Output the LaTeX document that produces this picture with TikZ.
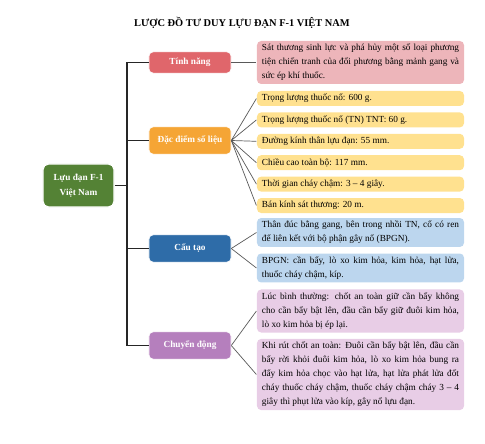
\documentclass[tikz,border=0pt]{standalone}
\usepackage{fontspec}
\setmainfont{Liberation Serif}

\definecolor{rootgreen}{HTML}{548235}
\definecolor{redcat}{HTML}{E0666B}
\definecolor{redleaf}{HTML}{EDB5BA}
\definecolor{orangecat}{HTML}{F5A535}
\definecolor{yellowleaf}{HTML}{FFE18F}
\definecolor{bluecat}{HTML}{2E6CA8}
\definecolor{blueleaf}{HTML}{BCD6EE}
\definecolor{purplecat}{HTML}{B57FBD}
\definecolor{purpleleaf}{HTML}{E8CDE6}

\begin{document}
\begin{tikzpicture}[x=0.025cm,y=-0.025cm,node distance=0.535cm,
                thick,
                root node/.style={rectangle,rounded corners=4pt,fill=rootgreen,draw=white,
                    text=white,align=center,minimum width=1.775cm,minimum height=1.075cm,
                    font=\fontsize{6.6}{10.5}\selectfont\bfseries},
                cat node/.style={rectangle,rounded corners=3pt,draw=white,thin,text=white,
                    minimum width=2.05cm,minimum height=0.68cm,
                    font=\fontsize{6.6}{10}\selectfont\bfseries},
                leaf node/.style={rectangle,rounded corners=3pt,text width=4.925cm,
                    inner xsep=0.125cm,inner ysep=2.2pt,align=justify,minimum height=0.375cm,
                    font=\fontsize{6.6}{10}\selectfont},
                trunk/.style={draw=black!85,line width=0.8pt},
                twig/.style={draw=black!65,line width=0.5pt}]
                \useasboundingbox (0,0) rectangle (485,444);
                \node[font=\fontsize{7.4}{10}\selectfont\bfseries] (title) at (242,23)
                    {LƯỢC ĐỒ TƯ DUY LỰU ĐẠN F-1 VIỆT NAM};

                \node[root node] (0) at (78.5,185.5) {Lựu đạn F-1\\Việt Nam};
                \node[cat node,fill=redcat,minimum height=0.53cm] (1) at (190,62.5) {Tính năng};
                \node[cat node,fill=orangecat] (2) at (190,140.5) {Đặc điểm số liệu};
                \node[cat node,fill=bluecat] (3) at (190,248.5) {Cấu tạo};
                \node[cat node,fill=purplecat] (4) at (190,345.5) {Chuyển động};
                \coordinate (t) at (127,185.5);

                % leaves
                \node[leaf node,fill=redleaf] (11) at (360.5,62.5)
                    {Sát thương sinh lực và phá hủy một số loại phương\linebreak tiện chiến tranh của đối phương bằng mảnh gang và\linebreak sức ép khí thuốc.};
                \node[leaf node,fill=yellowleaf] (21) at (360.5,98.5) {Trọng lượng thuốc nổ: 600 g.};
                \node[leaf node,fill=yellowleaf] (22) [below of=21] {Trọng lượng thuốc nổ (TN) TNT: 60 g.};
                \node[leaf node,fill=yellowleaf] (23) [below of=22] {Đường kính thân lựu đạn: 55 mm.};
                \node[leaf node,fill=yellowleaf] (24) [below of=23] {Chiều cao toàn bộ: 117 mm.};
                \node[leaf node,fill=yellowleaf] (25) [below of=24] {Thời gian cháy chậm: 3 – 4 giây.};
                \node[leaf node,fill=yellowleaf] (26) [below of=25] {Bán kính sát thương: 20 m.};
                \node[leaf node,fill=blueleaf] (31) at (360.5,232.5)
                    {Thân đúc bằng gang, bên trong nhồi TN, cổ có ren\linebreak để liên kết với bộ phận gây nổ (BPGN).};
                \node[leaf node,fill=blueleaf] (32) at (360.5,268)
                    {BPGN: cần bẩy, lò xo kim hỏa, kim hỏa, hạt lửa,\linebreak thuốc cháy chậm, kíp.};
                \node[leaf node,fill=purpleleaf] (41) at (360.5,311)
                    {Lúc bình thường: chốt an toàn giữ cần bẩy không\linebreak cho cần bẩy bật lên, đầu cần bẩy giữ đuôi kim hỏa,\linebreak lò xo kim hỏa bị ép lại.};
                \node[leaf node,fill=purpleleaf] (42) at (360.5,374.5)
                    {Khi rút chốt an toàn: Đuôi cần bẩy bật lên, đầu cần\linebreak bẩy rời khỏi đuôi kim hỏa, lò xo kim hỏa bung ra\linebreak đẩy kim hỏa chọc vào hạt lửa, hạt lửa phát lửa đốt\linebreak cháy thuốc cháy chậm, thuốc cháy chậm cháy 3 – 4\linebreak giây thì phụt lửa vào kíp, gây nổ lựu đạn.};

                % trunk
                \draw[trunk] (0.east) -- (t);
                \draw[trunk] (1.west) -- (1.west -| t) -- (4.west -| t) -- (4.west);
                \draw[trunk] (2.west) -- (2.west -| t);
                \draw[trunk] (3.west) -- (3.west -| t);

                \path[twig]
                (1.east) edge (11.west)
                (2.east) edge (21.west)
                (2.east) edge (22.west)
                (2.east) edge (23.west)
                (2.east) edge (24.west)
                (2.east) edge (25.west)
                (2.east) edge (26.west)
                (3.east) edge (31.west)
                (3.east) edge (32.west)
                (4.east) edge (41.west)
                (4.east) edge (42.west)
                ;
                \end{tikzpicture}
\end{document}
